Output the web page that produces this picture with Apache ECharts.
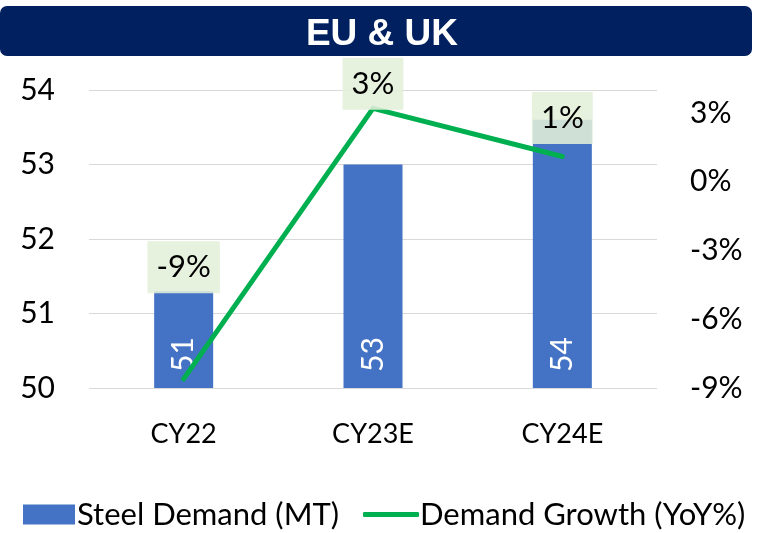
<!DOCTYPE html>
<html>
<head>
<meta charset="utf-8">
<script src="https://cdn.jsdelivr.net/npm/echarts@6/dist/echarts.min.js"></script>
<style>
  html, body { margin: 0; padding: 0; background: #fff; }
  #chart { width: 761px; height: 533px; }
</style>
</head>
<body>
<div id="chart"></div>
<script>
// values
const categories = ["CY22", "CY23E", "CY24E"];
const steelDemand = [51.3, 53.0, 53.6];   // MT, left axis
const demandGrowth = [-8.6, 3.2, 1.1];    // YoY %, right axis
const leftTicks = [50, 51, 52, 53, 54];
const rightTicks = [-9, -6, -3, 0, 3];

const font = "Lato, 'Open Sans', sans-serif";
const chart = echarts.init(document.getElementById("chart"));

chart.setOption({
  animation: false,
  graphic: [
    {
      type: "rect",
      left: 0,
      top: 6,
      shape: { width: 752, height: 50, r: 7 },
      style: { fill: "#002060" },
      z: 0
    }
  ],
  title: {
    text: "EU & UK",
    left: 377,
    top: 11,
    textAlign: "center",
    textStyle: {
      color: "#fff",
      fontFamily: "'Liberation Sans', Arial, sans-serif",
      fontWeight: "bold",
      fontSize: 37
    }
  },
  legend: [
    {
      data: ["Steel Demand (MT)"],
      left: 18,
      top: 494,
      icon: "rect",
      itemWidth: 52,
      itemHeight: 20,
      itemGap: 0,
      textStyle: { fontFamily: font, fontSize: 31, color: "#000", padding: [0, 0, 0, -3] }
    },
    {
      data: ["Demand Growth (YoY%)"],
      left: 358,
      top: 494,
      icon: "roundRect",
      itemWidth: 56,
      itemHeight: 5,
      textStyle: { fontFamily: font, fontSize: 31, color: "#000", padding: [0, 0, 0, -4] }
    }
  ],
  grid: { left: 89, right: 104, top: 90, bottom: 145 },
  xAxis: {
    type: "category",
    data: categories,
    axisLine: { show: false },
    axisTick: { show: false },
    axisLabel: { fontFamily: font, fontSize: 27, color: "#000", margin: 33 }
  },
  yAxis: [
    {
      type: "value",
      min: leftTicks[0],
      max: leftTicks[leftTicks.length - 1],
      interval: 1,
      axisLine: { show: false },
      axisTick: { show: false },
      splitLine: { lineStyle: { color: "#d9d9d9", width: 1 } },
      axisLabel: { fontFamily: font, fontSize: 30, color: "#000", margin: 34 }
    },
    {
      type: "value",
      min: rightTicks[0],
      max: 4,
      interval: 3,
      axisLine: { show: false },
      axisTick: { show: false },
      splitLine: { show: false },
      axisLabel: {
        fontFamily: font,
        fontSize: 30,
        color: "#000",
        margin: 33,
        showMaxLabel: false,
        formatter: (v) => (rightTicks.includes(v) ? v + "%" : "")
      }
    }
  ],
  series: [
    {
      name: "Steel Demand (MT)",
      type: "bar",
      data: steelDemand,
      barWidth: 59,
      itemStyle: { color: "#4472c4" },
      label: {
        show: true,
        position: "insideBottom",
        rotate: 90,
        align: "left",
        verticalAlign: "middle",
        distance: 16,
        color: "#fff",
        fontFamily: font,
        fontSize: 30,
        formatter: (p) => Math.round(p.value)
      }
    },
    {
      name: "Demand Growth (YoY%)",
      type: "line",
      yAxisIndex: 1,
      data: demandGrowth.map((v, i) => ({
        value: v,
        label: { distance: [85, -2, 12][i] }
      })),
      symbol: "circle",
      symbolSize: 1,
      itemStyle: { color: "#00b050" },
      lineStyle: { color: "#00b050", width: 5, cap: "round", join: "round" },
      z: 5,
      label: {
        show: true,
        position: "top",
        color: "#000",
        fontFamily: font,
        fontSize: 31,
        lineHeight: 34,
        backgroundColor: "rgba(226,239,218,0.88)",
        padding: [9, 9, 9, 9],
        formatter: (p) => Math.round(p.value) + "%"
      }
    }
  ]
});
</script>
</body>
</html>
